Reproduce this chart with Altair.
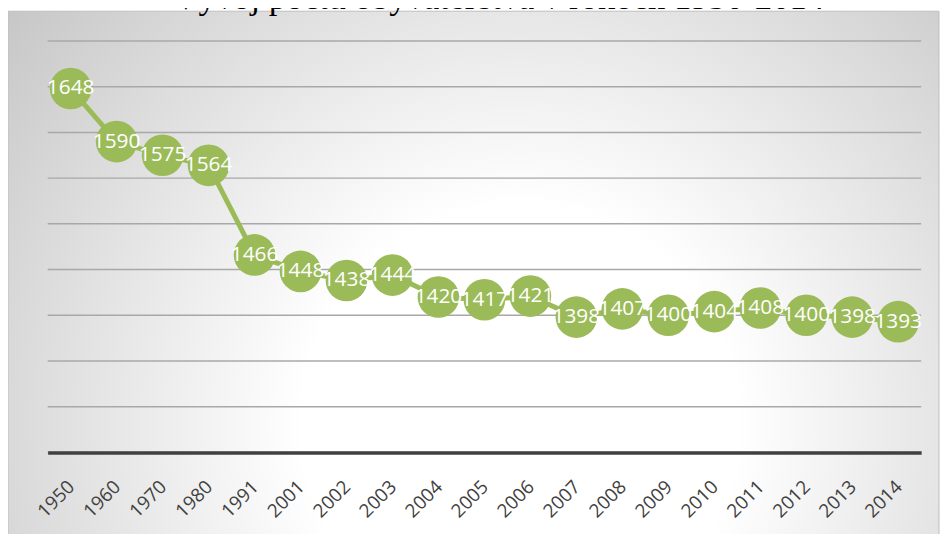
import altair as alt
import pandas as pd

years = ["1950", "1960", "1970", "1980", "1991", "2001", "2002", "2003", "2004", "2005",
         "2006", "2007", "2008", "2009", "2010", "2011", "2012", "2013", "2014"]
population = [1648, 1590, 1575, 1564, 1466, 1448, 1438, 1444, 1420, 1417,
              1421, 1398, 1407, 1400, 1404, 1408, 1400, 1398, 1393]
y_ticks = [1250, 1300, 1350, 1400, 1450, 1500, 1550, 1600, 1650, 1700]
title_text = "Vývoj počtu obyvateľstva v rokoch 1950-2014"

df = pd.DataFrame({"rok": years, "pocet": population})
grid_df = pd.DataFrame({"g": y_ticks})
one = pd.DataFrame({"a": [0]})

W, H = 881, 415
GREEN = "#9BBB59"

yscale = alt.Scale(domain=[1250, 1700], nice=False, zero=False)
xenc = alt.X(
    "rok:N", sort=years,
    scale=alt.Scale(type="point", padding=0.5),
    axis=alt.Axis(title=None, labelAngle=-45, ticks=False, grid=False,
                  domain=True, domainColor="#404040", domainWidth=3.5,
                  labelFont="Open Sans", labelFontSize=19, labelColor="#404040",
                  labelPadding=25, labelOffset=-6, zindex=1),
)
yenc = alt.Y("pocet:Q", scale=yscale,
             axis=alt.Axis(title=None, labels=False, ticks=False, domain=False, grid=False))

bg = alt.Chart(one).mark_rect(
    fill=alt.Gradient(
        gradient="radial",
        stops=[alt.GradientStop(offset=0, color="#ffffff"),
               alt.GradientStop(offset=0.3, color="#ffffff"),
               alt.GradientStop(offset=1, color="#bebebe")],
        x1=0.55, y1=0.65, r1=0, x2=0.55, y2=0.65, r2=0.78),
    stroke="#bdbdbd", strokeWidth=1,
).encode(x=alt.value(-40), x2=alt.value(899), y=alt.value(-30), y2=alt.value(520))

title = alt.Chart(one).mark_text(
    font="Liberation Serif", fontSize=35, color="#000000", align="center", baseline="alphabetic"
).encode(x=alt.value(455), y=alt.value(-32), text=alt.value(title_text))

grid = alt.Chart(grid_df).mark_rule(color="#a8a8a8", strokeWidth=1.5).encode(
    y=alt.Y("g:Q", scale=yscale, axis=None),
    x=alt.value(0), x2=alt.value(W),
)

line = alt.Chart(df).mark_line(color=GREEN, strokeWidth=5).encode(x=xenc, y=yenc)
pts = alt.Chart(df).mark_circle(color=GREEN, size=1764, opacity=1).encode(x=xenc, y=yenc)
labels = alt.Chart(df).mark_text(
    font="Open Sans", fontSize=21, color="white", align="center", baseline="middle"
).encode(x=xenc, y=yenc, text=alt.Text("pocet:Q", format="d"))

chart = alt.layer(bg, title, grid, line, pts, labels).properties(
    width=W, height=H,
    autosize=alt.AutoSizeParams(type="none"),
    padding={"left": 40, "top": 31, "right": 19, "bottom": 80},
).configure_view(stroke=None)

chart.save("out.html", embed_options={"renderer": "svg", "actions": False})
